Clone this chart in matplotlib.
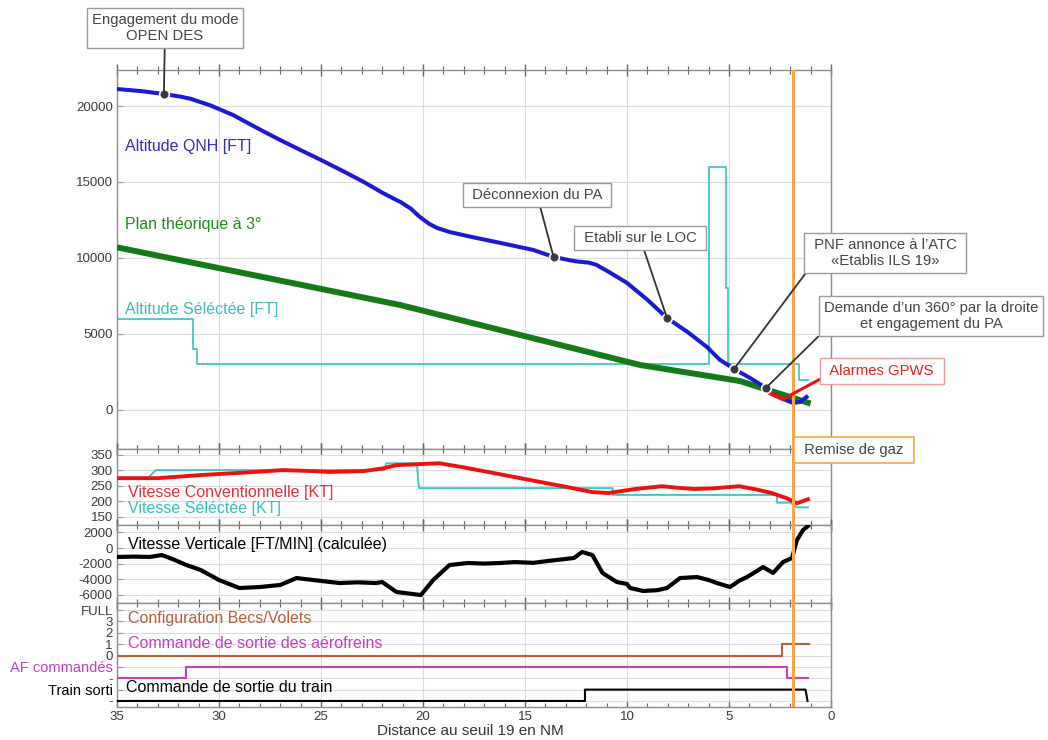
import numpy as np
import matplotlib
matplotlib.use("Agg")
import matplotlib.pyplot as plt
from matplotlib.ticker import MultipleLocator

plt.rcParams['font.family'] = ['Liberation Sans', 'DejaVu Sans']
plt.rcParams['axes.unicode_minus'] = False

# ---------------- data ----------------
# Altitude QNH [FT]
alt_dist = [35.0, 33.8, 32.7, 31.9, 31.4, 30.4, 29.3, 28.2, 27.0, 26.0, 25.0, 23.9, 22.9, 22.0, 21.5, 21.1,
            20.6, 20.2, 19.7, 19.3, 18.7, 17.5, 16.2, 14.6, 13.6, 12.8, 12.4, 11.9, 11.5, 10.8, 10.0, 9.0,
            8.04, 7.0, 6.08, 5.44, 4.75, 3.9, 3.19, 3.0, 2.35, 1.86, 1.5, 1.2]
alt_qnh = [21120, 20980, 20790, 20620, 20480, 20030, 19400, 18600, 17760, 17100, 16450, 15700, 15000, 14300,
           13950, 13680, 13250, 12750, 12250, 11970, 11710, 11350, 10990, 10530, 10070, 9850, 9760, 9700,
           9550, 9010, 8360, 7250, 6050, 5100, 4140, 3290, 2700, 2050, 1450, 1120, 720, 460, 530, 855]
# GPWS alarm portion of the altitude trace
gpws_dist = [3.0, 2.7, 2.35]
gpws_alt = [1120, 920, 720]

# Theoretical 3 deg plan
plan_dist = [35.0, 21.1, 9.36, 4.46, 1.0]
plan_alt = [10700, 6900, 2960, 1900, 420]

# Selected altitude [FT]
selalt_dist = [35.0, 31.27, 31.27, 31.1, 31.1, 5.98, 5.98, 5.15, 5.15, 5.05, 5.05, 1.57, 1.57, 1.13]
selalt_val = [6000, 6000, 4000, 4000, 3000, 3000, 16000, 16000, 8000, 8000, 3000, 3000, 2000, 2000]

# Key events (annotation points on altitude trace)
evt_dist = [32.7, 13.6, 8.04, 4.75, 3.19]
evt_alt = [20790, 10070, 6050, 2700, 1450]
evt_text = ["Engagement du mode\nOPEN DES", " Déconnexion du PA ", " Etabli sur le LOC ",
            " PNF annonce à l\u2019ATC \n«Etablis ILS 19»", "Demande d\u2019un 360° par la droite\net engagement du PA"]

# Conventional speed [KT]
cas_dist = [35.0, 33.0, 30.9, 29.3, 28.0, 26.9, 25.5, 24.6, 22.9, 22.0, 21.3, 19.9, 19.2, 18.1, 16.5, 14.2,
            12.9, 11.7, 10.9, 10.3, 9.6, 8.3, 7.5, 6.7, 5.8, 4.5, 3.7, 2.9, 2.2, 1.67, 1.13]
cas_val = [274, 274, 284, 290, 295, 300, 297, 294, 297, 305, 316, 320, 322, 310, 290, 261,
           245, 229, 226, 232, 239, 248, 243, 239, 241, 248, 238, 226, 210, 193, 206]

# Selected speed [KT]
selspd_dist = [33.4, 33.1, 21.9, 21.8, 20.3, 20.2, 10.7, 10.7, 2.65, 2.65, 2.0, 1.67, 1.13]
selspd_val = [280, 300, 300, 322, 322, 242, 242, 220, 220, 195, 195, 180, 180]

# Vertical speed [FT/MIN]
vs_dist = [35.0, 34.2, 33.4, 32.8, 32.2, 31.6, 30.9, 30.0, 29.0, 28.0, 27.0, 26.2, 25.4, 24.1, 23.2, 22.3,
           22.0, 21.3, 20.1, 19.5, 18.7, 17.8, 17.0, 16.2, 15.5, 14.6, 13.9, 12.6, 12.2, 11.7, 11.2, 10.5,
           10.0, 9.85, 9.2, 8.5, 8.04, 7.4, 6.57, 6.0, 5.59, 4.95, 4.5, 4.12, 3.6, 3.33, 2.84, 2.35, 1.91,
           1.67, 1.37, 1.13]
vs_val = [-1150, -1100, -1150, -900, -1500, -2180, -2820, -4100, -5130, -5000, -4740, -3850, -4100, -4490,
          -4400, -4490, -4360, -5640, -6030, -4100, -2180, -1920, -2000, -1920, -1800, -1900, -1670, -1280,
          -510, -900, -3200, -4360, -4600, -5130, -5510, -5400, -5130, -3850, -3720, -4100, -4490, -5000,
          -4200, -3720, -2900, -2440, -3200, -1800, -1280, 1030, 2300, 2820]

# Configuration / speed brakes / landing gear (config panel levels)
flaps_dist = [35.0, 2.4, 2.4, 1.1]
flaps_val = [0, 0, 1, 1]
af_dist = [35.0, 31.6, 31.6, 2.15, 2.15, 1.15]
af_val = [-2, -2, -1, -1, -2, -2]
gear_dist = [35.0, 12.06, 12.06, 1.25, 1.15]
gear_val = [-4, -4, -3, -3, -4]

go_around_dist = 1.86

cfg_ticks = [4, 3, 2, 1, 0, -1, -2, -3, -4]
cfg_labels = ["FULL", "3", "2", "1", "0", "AF commandés", "-", "Train sorti", "-"]

# ---------------- figure ----------------
W, H = 1048, 740
fig = plt.figure(figsize=(W / 100, H / 100), dpi=100)


def px(x, y):
    return x / W, 1 - y / H


def box(x0, y0, x1, y1):
    return [x0 / W, 1 - y1 / H, (x1 - x0) / W, (y1 - y0) / H]


L, R = 117, 831
ax1 = fig.add_axes(box(L, 70, R, 449))
ax2 = fig.add_axes(box(L, 449, R, 525))
ax3 = fig.add_axes(box(L, 525, R, 603))
ax4 = fig.add_axes(box(L, 603, R, 707))
axes = [ax1, ax2, ax3, ax4]

grid_c = '#dcdcdc'
spine_c = '#8c8c8c'
tick_c = '#3a3a3a'
for ax in axes:
    ax.set_xlim(35, 0)
    ax.xaxis.set_major_locator(MultipleLocator(5))
    ax.xaxis.set_minor_locator(MultipleLocator(1))
    ax.tick_params(axis='x', which='both', direction='inout', top=True, bottom=True,
                   color='#666666', labelbottom=False)
    ax.tick_params(axis='x', which='major', length=9, width=1)
    ax.tick_params(axis='x', which='minor', length=6, width=0.8)
    ax.tick_params(axis='y', direction='in', length=4, color='#999999', labelsize=9.5,
                   labelcolor=tick_c, pad=3)
    ax.grid(True, which='major', color=grid_c, lw=0.8)
    ax.set_axisbelow(True)
    for s in ax.spines.values():
        s.set_color(spine_c)
        s.set_linewidth(1.0)
    ax.axvline(go_around_dist, color='#f6a646', lw=2.2, zorder=6)

ax4.tick_params(axis='x', which='both', direction='in', labelbottom=True, labelsize=9.5,
                labelcolor=tick_c, pad=3)
ax4.tick_params(axis='x', which='major', length=5)
ax4.tick_params(axis='x', which='minor', length=3)
fig.text(*px(470, 731), "Distance au seuil 19 en NM", fontsize=11, color='#333333',
         ha='center', va='center')

# Top panel
ax1.set_ylim(-2570, 22370)
ax1.set_yticks([0, 5000, 10000, 15000, 20000])
ax1.plot(selalt_dist, selalt_val, color='#45c6c6', lw=1.3, zorder=2)
ax1.plot(plan_dist, plan_alt, color='#157a15', lw=4.3, solid_capstyle='butt', zorder=3)
ax1.plot(alt_dist, alt_qnh, color='#1a1ad0', lw=2.9, zorder=4)
ax1.plot(gpws_dist, gpws_alt, color='#ee1111', lw=2.9, zorder=5)

fig.text(*px(125, 147), "Altitude QNH [FT]", color='#2c2cc8', fontsize=11.5, va='center', ha='left')
fig.text(*px(125, 224), "Plan théorique à 3°", color='#1f8a1f', fontsize=11.5, va='center', ha='left')
fig.text(*px(125, 309), "Altitude Séléctée [FT]", color='#3cbcbc', fontsize=11.5, va='center', ha='left')

# annotations on altitude trace
ann_pos = [(165, 28), (537, 195), (640, 238), (885, 253), (931, 316)]
ann_rel = [(0.5, 0.5), (0.5, 0.5), (0.5, 0.5), (0.0, 0.0), (0.0, 0.0)]
for d, a, t, (bx, by), rp in zip(evt_dist, evt_alt, evt_text, ann_pos, ann_rel):
    ax1.annotate(t, xy=(d, a), xycoords='data', xytext=px(bx, by), textcoords='figure fraction',
                 ha='center', va='center', fontsize=10.7, color='#444444', linespacing=1.2,
                 annotation_clip=False, zorder=10,
                 bbox=dict(boxstyle='square,pad=0.35', fc='white', ec='#9a9a9a', lw=1.0),
                 arrowprops=dict(arrowstyle='-', color='#333333', lw=1.3, relpos=rp,
                                 shrinkA=0, shrinkB=0))
ax1.plot(evt_dist, evt_alt, 'o', ms=7, mfc='#3c3c3c', mec='white', mew=1.2, zorder=8)

ax1.annotate(" Alarmes GPWS ", xy=(gpws_dist[-1], gpws_alt[-1]), xycoords='data',
             xytext=px(882, 371), textcoords='figure fraction', ha='center', va='center',
             fontsize=10.7, color='#e82020', annotation_clip=False, zorder=10,
             bbox=dict(boxstyle='square,pad=0.4', fc='white', ec='#ee9a9a', lw=1.0),
             arrowprops=dict(arrowstyle='-', color='#ee1111', lw=2.2, relpos=(0.0, 0.15),
                             shrinkA=0, shrinkB=0))

fig.text(*px(854, 450), " Remise de gaz ", ha='center', va='center', fontsize=10.7, color='#444444',
         zorder=10, bbox=dict(boxstyle='square,pad=0.4', fc='white', ec='#f6a646', lw=1.2))

# Speed panel
ax2.set_ylim(123, 368)
ax2.set_yticks([150, 200, 250, 300, 350])
ax2.plot(selspd_dist, selspd_val, color='#45c6c6', lw=1.4, zorder=3)
ax2.plot(cas_dist, cas_val, color='#ee1111', lw=2.8, zorder=4)
fig.text(*px(128, 492), "Vitesse Conventionnelle [KT]", color='#e8303a', fontsize=11.5, va='center')
fig.text(*px(128, 509), "Vitesse Séléctée [KT]", color='#3cbcbc', fontsize=11.5, va='center')

# Vertical speed panel
ax3.set_ylim(-7050, 2950)
ax3.set_yticks([-6000, -4000, -2000, 0, 2000])
ax3.plot(vs_dist, vs_val, color='black', lw=3.0, zorder=4)
fig.text(*px(128, 544), "Vitesse Verticale [FT/MIN] (calculée)", color='black', fontsize=11.5, va='center')

# Config panel
ax4.set_ylim(-4.53, 4.62)
ax4.set_yticks(cfg_ticks)
ax4.set_yticklabels(cfg_labels)
for i, lab in enumerate(ax4.get_yticklabels()):
    if i in (5, 7):
        lab.set_fontsize(10.5)
ax4.get_yticklabels()[5].set_color('#c23cc2')
ax4.get_yticklabels()[7].set_color('black')
ax4.plot(flaps_dist, flaps_val, color='#b5603a', lw=1.5, zorder=4)
ax4.plot(af_dist, af_val, color='#c83cc8', lw=1.5, zorder=4)
ax4.plot(gear_dist, gear_val, color='black', lw=1.5, zorder=4)
fig.text(*px(128, 619), "Configuration Becs/Volets", color='#b5603a', fontsize=11.5, va='center')
fig.text(*px(128, 644), "Commande de sortie des aérofreins", color='#c23cc2', fontsize=11.5, va='center')
fig.text(*px(126, 688), "Commande de sortie du train", color='black', fontsize=11.5, va='center')

fig.savefig("out.png", dpi=100)
